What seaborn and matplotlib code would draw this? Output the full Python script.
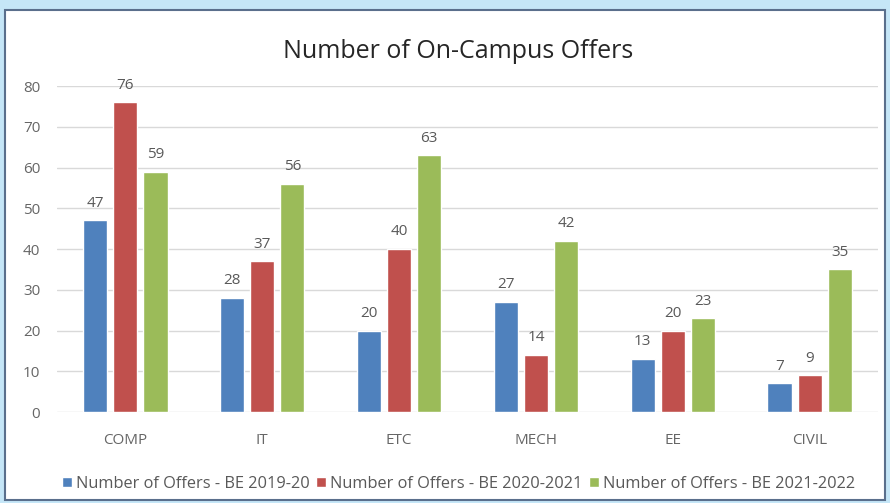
import pandas as pd
import matplotlib.pyplot as plt
import seaborn as sns
from matplotlib.patches import Rectangle

branches = ["COMP", "IT", "ETC", "MECH", "EE", "CIVIL"]
offers_2019_20 = [47, 28, 20, 27, 13, 7]
offers_2020_21 = [76, 37, 40, 14, 20, 9]
offers_2021_22 = [59, 56, 63, 42, 23, 35]
series_names = [
    "Number of Offers - BE 2019-20",
    "Number of Offers - BE 2020-2021",
    "Number of Offers - BE 2021-2022",
]
colors = ["#4f81bd", "#c0504d", "#9bbb59"]

rows = []
for name, vals in zip(series_names, [offers_2019_20, offers_2020_21, offers_2021_22]):
    for b, v in zip(branches, vals):
        rows.append({"branch": b, "series": name, "offers": v})
df = pd.DataFrame(rows)

sns.set_style("white")
plt.rcParams["font.family"] = ["Open Sans", "DejaVu Sans"]

fig = plt.figure(figsize=(8.9, 5.03), dpi=100)
fig.patch.set_facecolor("#c5e6f7")
# chart frame
frame = Rectangle((5 / 890, 3 / 503), 880 / 890, 490 / 503,
                  transform=fig.transFigure, facecolor="white",
                  edgecolor="#5a6f8c", linewidth=1.5, zorder=-10)
fig.add_artist(frame)

ax = fig.add_axes([57 / 890, 91 / 503, 821 / 890, 326 / 503])
ax.set_facecolor("white")
sns.barplot(data=df, x="branch", y="offers", hue="series", palette=colors,
            width=0.66, gap=0.2, ax=ax, saturation=1)

for cont in ax.containers:
    ax.bar_label(cont, padding=7, color="#595959", fontsize=11)

ax.set_ylim(0, 80)
ax.set_xlim(-0.5, 5.5)
ax.set_yticks(range(0, 81, 10))
ax.yaxis.grid(True, color="#d9d9d9", linewidth=1)
ax.set_axisbelow(True)
for s in ax.spines.values():
    s.set_visible(False)
ax.tick_params(axis="both", length=0, colors="#666666", labelsize=11)
ax.tick_params(axis="x", pad=15)
ax.tick_params(axis="y", pad=12)
ax.set_xlabel("")
ax.set_ylabel("")
ax.set_title("Number of On-Campus Offers", fontsize=18, color="#262626", pad=20, x=0.488)

ax.legend(loc="upper center", bbox_to_anchor=(0.489, -0.15), ncol=3, frameon=False,
          fontsize=11.8, handlelength=0.6, handleheight=0.6, handletextpad=0.25,
          columnspacing=0.4, labelcolor="#595959")

fig.savefig("out.png", dpi=100, facecolor=fig.get_facecolor())
